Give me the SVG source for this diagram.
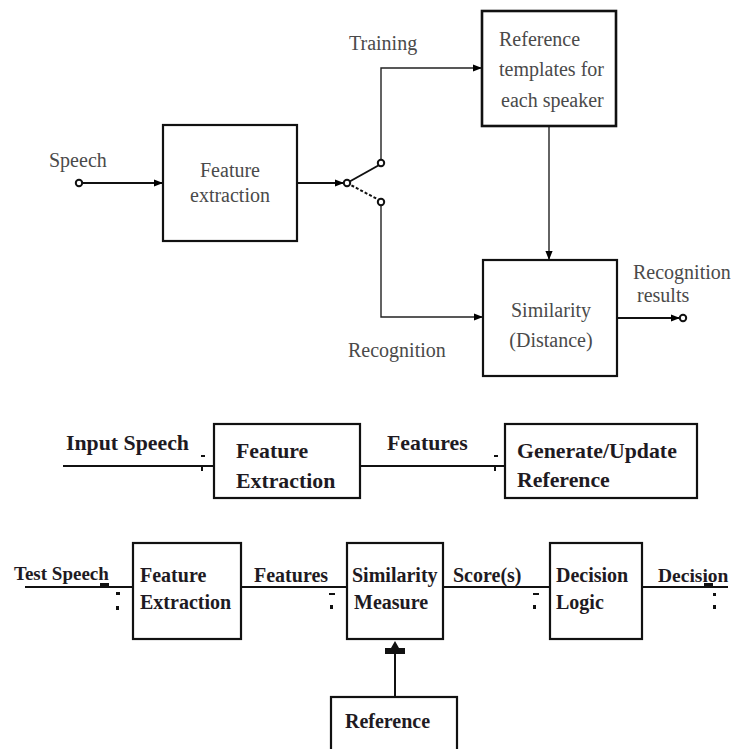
<svg xmlns="http://www.w3.org/2000/svg" width="734" height="749" viewBox="0 0 734 749">
<defs>
<marker id="ah" viewBox="0 0 10 10" refX="10" refY="5" markerWidth="9" markerHeight="9" markerUnits="userSpaceOnUse" orient="auto">
<path d="M0,1 L10,5 L0,9 z" fill="#000"/>
</marker>
</defs>
<style>
.bx{fill:#fff;stroke:#111;stroke-width:2.2}
.ln{fill:none;stroke:#111;stroke-width:2}
.tl{fill:none;stroke:#222;stroke-width:1.4}
.tt{font-family:'Liberation Serif','Times New Roman','DejaVu Serif',serif;font-size:20px;fill:#4a4a4a}
.bt{font-family:'Liberation Serif','Times New Roman','DejaVu Serif',serif;font-size:20px;font-weight:bold;fill:#1e1a22}
.mid{font-size:21.8px}
.term{fill:#fff;stroke:#111;stroke-width:2}
.mk{fill:#111}
</style>
<rect width="734" height="749" fill="#fff"/>

<!-- ===== Top diagram ===== -->
<g id="connectors-top">
<line class="ln" x1="79" y1="183" x2="163" y2="183" marker-end="url(#ah)"/>
<line class="ln" x1="297" y1="183" x2="344" y2="183" marker-end="url(#ah)"/>
<line class="ln" x1="347" y1="183" x2="381" y2="164"/>
<line class="ln" x1="347" y1="183" x2="381" y2="201" stroke-dasharray="3,2"/>
<polyline class="tl" points="381,163 381,68 482,68" marker-end="url(#ah)"/>
<polyline class="tl" points="381,202 381,317 483,317" marker-end="url(#ah)"/>
<line class="tl" x1="549" y1="126" x2="549" y2="260" marker-end="url(#ah)"/>
<line class="ln" x1="617" y1="318" x2="680" y2="318" marker-end="url(#ah)"/>
<circle class="term" cx="79" cy="183" r="3.2"/>
<circle class="term" cx="347" cy="183" r="3.2"/>
<circle class="term" cx="381" cy="163" r="3.2"/>
<circle class="term" cx="381" cy="202" r="3.2"/>
<circle class="term" cx="683" cy="318" r="3.2"/>
</g>
<text class="tt" x="49" y="167">Speech</text>
<text class="tt" x="349" y="50">Training</text>
<text class="tt" x="348" y="357">Recognition</text>
<text class="tt" x="633" y="279">Recognition</text>
<text class="tt" x="637" y="302">results</text>

<g id="feature-extraction-top">
<rect class="bx" x="163" y="125" width="134" height="116"/>
<text class="tt" x="230" y="177" text-anchor="middle">Feature</text>
<text class="tt" x="230" y="202" text-anchor="middle">extraction</text>
</g>
<g id="reference-templates">
<rect class="bx" x="482" y="11" width="134" height="115" style="stroke-width:2.6"/>
<text class="tt" x="499" y="46">Reference</text>
<text class="tt" x="499" y="76">templates for</text>
<text class="tt" x="501" y="107">each speaker</text>
</g>
<g id="similarity-distance">
<rect class="bx" x="483" y="260" width="134" height="116"/>
<text class="tt" x="551" y="317" text-anchor="middle">Similarity</text>
<text class="tt" x="551" y="347" text-anchor="middle">(Distance)</text>
</g>

<!-- ===== Middle diagram (training) ===== -->
<g id="connectors-middle">
<line class="ln" x1="63" y1="466" x2="214" y2="466"/>
<rect class="mk" x="201" y="455" width="4" height="2"/>
<rect class="mk" x="201" y="466" width="2" height="5"/>
<line class="ln" x1="360" y1="466" x2="505" y2="466"/>
<rect class="mk" x="494" y="455" width="4" height="2"/>
<rect class="mk" x="494" y="466" width="2" height="5"/>
</g>
<text class="bt mid" x="66" y="450">Input Speech</text>
<text class="bt mid" x="387" y="450">Features</text>
<g id="feature-extraction-train">
<rect class="bx" x="214" y="424" width="146" height="74"/>
<text class="bt mid" x="236" y="458">Feature</text>
<text class="bt mid" x="236" y="488">Extraction</text>
</g>
<g id="generate-update-reference">
<rect class="bx" x="505" y="424" width="192" height="74"/>
<text class="bt mid" x="517" y="458">Generate/Update</text>
<text class="bt mid" x="517" y="487">Reference</text>
</g>

<!-- ===== Bottom diagram (testing) ===== -->
<g id="connectors-bottom">
<line class="ln" x1="25" y1="587" x2="133" y2="587"/>
<rect class="mk" x="100" y="583" width="9" height="3"/>
<rect class="mk" x="116" y="592" width="4" height="3"/>
<rect class="mk" x="116" y="606" width="3" height="4"/>
<line class="ln" x1="241" y1="587" x2="347" y2="587"/>
<rect class="mk" x="329" y="593" width="6" height="2"/>
<rect class="mk" x="330" y="605" width="3" height="4"/>
<line class="ln" x1="443" y1="587" x2="550" y2="587"/>
<rect class="mk" x="533" y="593" width="6" height="2"/>
<rect class="mk" x="533" y="605" width="3" height="4"/>
<line class="ln" x1="642" y1="587" x2="728" y2="587"/>
<rect class="mk" x="704" y="583" width="9" height="3"/>
<rect class="mk" x="713" y="593" width="3" height="3"/>
<rect class="mk" x="713" y="605" width="3" height="4"/>
<line class="ln" x1="395" y1="697" x2="395" y2="645"/>
<path class="mk" d="M385,648 h20 v6 h-20 z M391,648 L395,641 L399,648 z"/>
</g>
<text class="bt" x="14" y="580" style="font-size:19px">Test Speech</text>
<text class="bt" x="254" y="582">Features</text>
<text class="bt" x="453" y="582">Score(s)</text>
<text class="bt" x="658" y="582" style="font-size:19.5px">Decision</text>
<g id="feature-extraction-test">
<rect class="bx" x="133" y="543" width="108" height="96"/>
<text class="bt" x="140" y="582">Feature</text>
<text class="bt" x="140" y="609">Extraction</text>
</g>
<g id="similarity-measure">
<rect class="bx" x="347" y="543" width="96" height="96"/>
<text class="bt" x="352" y="582">Similarity</text>
<text class="bt" x="354" y="609">Measure</text>
</g>
<g id="decision-logic">
<rect class="bx" x="550" y="543" width="92" height="96"/>
<text class="bt" x="556" y="582">Decision</text>
<text class="bt" x="556" y="609">Logic</text>
</g>
<g id="reference-bottom">
<rect class="bx" x="331" y="697" width="126" height="70"/>
<text class="bt" x="345" y="728">Reference</text>
</g>
</svg>
